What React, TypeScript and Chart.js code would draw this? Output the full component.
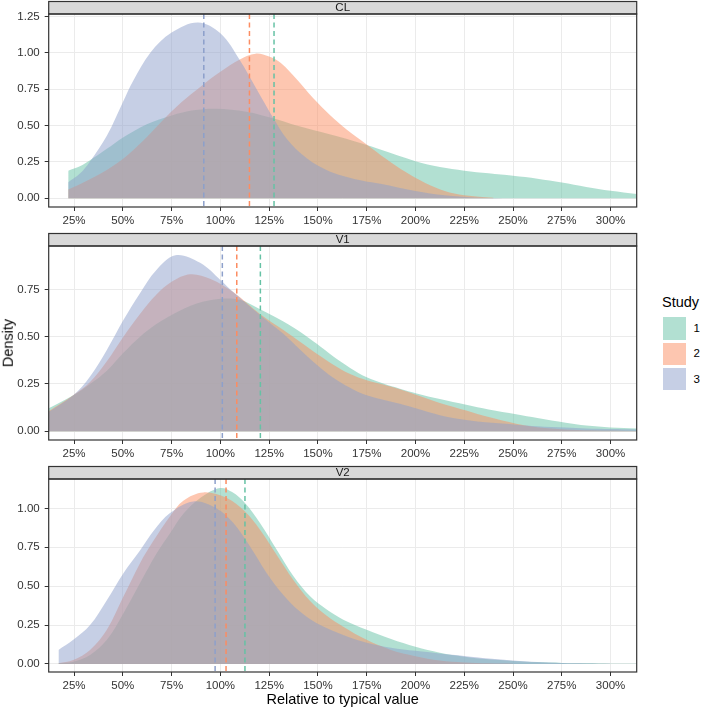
import React, { useEffect, useRef } from "react";
import { Chart, registerables } from "chart.js";

Chart.register(...registerables);

const FONT = "'Liberation Sans', Arial, Helvetica, sans-serif";
Chart.defaults.font.family = FONT;

// ---------- Data ----------
const PANEL_NAMES = ["CL", "V1", "V2"];
const STUDIES = ["1", "2", "3"];
const STUDY_COLORS = ["#66C2A5", "#FC8D62", "#8DA0CB"];
const STUDY_FILLS = ["rgba(102,194,165,0.5)", "rgba(252,141,98,0.5)", "rgba(141,160,203,0.5)"];

const X_TICKS = [25, 50, 75, 100, 125, 150, 175, 200, 225, 250, 275, 300];
const X_MIN = 12;
const X_MAX = 313.4;

// CL
const CL_S1_X = [22, 28, 33, 41.8, 50.3, 62.3, 75, 86, 98, 113.4, 127, 139, 156, 173, 182, 200, 212.5, 225, 237.5, 250, 262.5, 275, 287.5, 300, 313.4];
const CL_S1_Y = [0.19, 0.22, 0.26, 0.34, 0.42, 0.51, 0.57, 0.605, 0.616, 0.595, 0.55, 0.5, 0.44, 0.375, 0.335, 0.255, 0.215, 0.19, 0.172, 0.155, 0.135, 0.108, 0.078, 0.052, 0.03];
const CL_S2_X = [22, 30, 40, 50, 60, 70, 80, 90, 100, 110, 118, 125, 131, 139, 147.5, 156, 165, 175, 185, 195, 205, 215, 225, 240];
const CL_S2_Y = [0.06, 0.11, 0.18, 0.27, 0.39, 0.53, 0.66, 0.77, 0.87, 0.955, 0.995, 0.975, 0.93, 0.82, 0.69, 0.575, 0.47, 0.37, 0.27, 0.18, 0.105, 0.05, 0.02, 0.003];
const CL_S3_X = [22, 28, 33, 41.8, 50.3, 55.4, 64, 75, 88.5, 100, 110, 118.6, 127.2, 134, 144.3, 156, 173, 182, 200, 215, 230, 245];
const CL_S3_Y = [0.11, 0.17, 0.25, 0.43, 0.67, 0.81, 1.0, 1.14, 1.21, 1.135, 0.95, 0.75, 0.55, 0.41, 0.275, 0.185, 0.12, 0.1, 0.05, 0.02, 0.006, 0.001];
const CL_MEDIANS = [127.5, 114.9, 91.5];
const CL_Y_TICKS = [0, 0.25, 0.5, 0.75, 1.0, 1.25];

// V1
const V1_S1_X = [11.8, 24.6, 33.2, 41.8, 50.3, 58.8, 67, 75.9, 87.8, 100, 110, 120.3, 132.3, 140.8, 149.4, 157.9, 166.5, 175, 183.5, 192, 200.6, 212.5, 226, 237.5, 251.6, 262.5, 277, 287.5, 300, 313.4];
const V1_S1_Y = [0.12, 0.19, 0.25, 0.32, 0.415, 0.5, 0.565, 0.62, 0.675, 0.7, 0.695, 0.645, 0.58, 0.526, 0.462, 0.395, 0.335, 0.285, 0.252, 0.225, 0.2, 0.17, 0.14, 0.115, 0.09, 0.07, 0.045, 0.03, 0.02, 0.015];
const V1_S2_X = [11.8, 24.6, 33.2, 41.8, 50.3, 58.8, 67, 75, 84.5, 95, 106.7, 120.3, 132.3, 140.8, 149.4, 157.9, 166.5, 175, 183.5, 192, 200.6, 212.5, 226, 237.5, 251.6, 262.5, 277, 290, 313.4];
const V1_S2_Y = [0.105, 0.19, 0.26, 0.37, 0.5, 0.62, 0.72, 0.79, 0.83, 0.805, 0.735, 0.62, 0.535, 0.473, 0.41, 0.352, 0.303, 0.27, 0.247, 0.222, 0.192, 0.15, 0.11, 0.075, 0.04, 0.022, 0.01, 0.005, 0.002];
const V1_S3_X = [11.8, 24.6, 33.2, 41.8, 50.3, 58.8, 67, 77, 89.6, 100, 106.7, 120.3, 132.3, 140.8, 149.4, 157.9, 166.5, 175, 192, 200.6, 212.5, 226, 237.5, 251.6, 262.5, 277, 287.5, 300, 313.4];
const V1_S3_Y = [0.1, 0.19, 0.29, 0.43, 0.588, 0.73, 0.85, 0.93, 0.89, 0.8, 0.735, 0.615, 0.515, 0.432, 0.352, 0.283, 0.23, 0.19, 0.145, 0.12, 0.085, 0.06, 0.046, 0.035, 0.027, 0.02, 0.015, 0.012, 0.01];
const V1_MEDIANS = [120.5, 108.4, 101];
const V1_Y_TICKS = [0, 0.25, 0.5, 0.75];

// V2
const V2_S1_X = [17, 24.6, 33.2, 41.8, 50.3, 58.8, 67.4, 74.2, 81, 90, 99.8, 106, 112.6, 120.3, 128.9, 137.4, 146, 154.5, 163, 175, 187.5, 200, 212.5, 225, 237.5, 250, 262.5, 275, 287.5, 300, 313.4];
const V2_S1_Y = [0.005, 0.015, 0.058, 0.155, 0.326, 0.52, 0.713, 0.84, 0.965, 1.07, 1.131, 1.105, 1.035, 0.906, 0.734, 0.565, 0.435, 0.35, 0.285, 0.22, 0.16, 0.11, 0.072, 0.047, 0.03, 0.02, 0.012, 0.007, 0.004, 0.002, 0.001];
const V2_S2_X = [17, 24.6, 33.2, 41.8, 50.3, 58.8, 65.6, 74.2, 81, 91.3, 103.3, 112.6, 120.3, 128.9, 137.4, 146, 154.5, 163, 175, 187.5, 200, 212.5, 225, 237.5, 250];
const V2_S2_Y = [0.005, 0.026, 0.09, 0.22, 0.433, 0.648, 0.79, 0.95, 1.05, 1.103, 1.067, 0.98, 0.863, 0.7, 0.54, 0.405, 0.31, 0.24, 0.155, 0.09, 0.05, 0.022, 0.01, 0.004, 0.002];
const V2_S3_X = [17, 24.6, 33.2, 41.8, 50.3, 58.8, 66, 74.2, 86.1, 98.1, 106.7, 115.2, 123.8, 132.3, 140.8, 149.4, 163, 175, 187.5, 200, 212.5, 225, 237.5, 250, 262.5, 275, 287.5, 300];
const V2_S3_Y = [0.09, 0.155, 0.25, 0.41, 0.584, 0.73, 0.86, 0.97, 1.045, 1.0, 0.906, 0.755, 0.584, 0.444, 0.337, 0.262, 0.187, 0.137, 0.105, 0.085, 0.068, 0.052, 0.035, 0.022, 0.012, 0.006, 0.003, 0.001];
const V2_MEDIANS = [112.6, 102.9, 97.3];
const V2_Y_TICKS = [0, 0.25, 0.5, 0.75, 1.0];

// ---------- Panel layout ----------
const CANVAS_W = 645;
const AREA_LEFT = 48.7;
const AREA_RIGHT = 636.7;
const STRIP_H = 12.5;

type PanelDef = {
  name: string;
  xs: number[][];
  ys: number[][];
  medians: number[];
  yTicks: number[];
  yMin: number;
  yMax: number;
  top: number;
  height: number;
};

const PANELS: PanelDef[] = [
  { name: PANEL_NAMES[0], xs: [CL_S1_X, CL_S2_X, CL_S3_X], ys: [CL_S1_Y, CL_S2_Y, CL_S3_Y], medians: CL_MEDIANS, yTicks: CL_Y_TICKS, yMin: -0.06, yMax: 1.268, top: 0, height: 230 },
  { name: PANEL_NAMES[1], xs: [V1_S1_X, V1_S2_X, V1_S3_X], ys: [V1_S1_Y, V1_S2_Y, V1_S3_Y], medians: V1_MEDIANS, yTicks: V1_Y_TICKS, yMin: -0.046, yMax: 0.979, top: 232, height: 231 },
  { name: PANEL_NAMES[2], xs: [V2_S1_X, V2_S2_X, V2_S3_X], ys: [V2_S1_Y, V2_S2_Y, V2_S3_Y], medians: V2_MEDIANS, yTicks: V2_Y_TICKS, yMin: -0.0515, yMax: 1.189, top: 465, height: 230 },
];

const decorPlugin = {
  id: "panelDecor",
  afterDatasetsDraw(chart: any, _args: any, opts: any) {
    const { ctx, chartArea: a, scales } = chart;
    ctx.save();
    ctx.beginPath();
    ctx.rect(a.left, a.top, a.right - a.left, a.bottom - a.top);
    ctx.clip();
    (opts.medians as number[]).forEach((m, i) => {
      const x = scales.x.getPixelForValue(m);
      ctx.strokeStyle = STUDY_COLORS[i];
      ctx.lineWidth = 1.5;
      ctx.setLineDash([5, 3.5]);
      ctx.beginPath();
      ctx.moveTo(x, a.top);
      ctx.lineTo(x, a.bottom);
      ctx.stroke();
    });
    ctx.restore();
  },
  afterDraw(chart: any, _args: any, opts: any) {
    const { ctx, chartArea: a } = chart;
    ctx.save();
    // strip
    ctx.fillStyle = "#D9D9D9";
    ctx.fillRect(a.left, a.top - STRIP_H, a.right - a.left, STRIP_H);
    ctx.strokeStyle = "#333333";
    ctx.lineWidth = 1.2;
    ctx.strokeRect(a.left, a.top - STRIP_H, a.right - a.left, STRIP_H);
    ctx.fillStyle = "#1A1A1A";
    ctx.font = `11.5px ${FONT}`;
    ctx.textAlign = "center";
    ctx.textBaseline = "middle";
    ctx.fillText(opts.title, (a.left + a.right) / 2, a.top - STRIP_H / 2 + 0.5);
    // panel border
    ctx.strokeRect(a.left, a.top, a.right - a.left, a.bottom - a.top);
    ctx.restore();
  },
};

function Panel({ p }: { p: PanelDef }) {
  const ref = useRef<HTMLCanvasElement>(null);
  useEffect(() => {
    if (!ref.current) return;
    const datasets = STUDIES.map((s, i) => ({
      label: s,
      data: p.xs[i].map((x, j) => ({ x, y: p.ys[i][j] })),
      fill: "origin",
      backgroundColor: STUDY_FILLS[i],
      borderColor: "rgba(0,0,0,0)",
      borderWidth: 0,
      pointRadius: 0,
      tension: 0.35,
      order: 3 - i,
    }));
    const chart = new Chart(ref.current, {
      type: "line",
      data: { datasets } as any,
      plugins: [decorPlugin as any],
      options: {
        responsive: false,
        animation: false,
        layout: { padding: { top: 14, right: CANVAS_W - AREA_RIGHT, left: 0, bottom: 0 } },
        plugins: {
          legend: { display: false },
          tooltip: { enabled: false },
          panelDecor: { medians: p.medians, title: p.name },
        } as any,
        scales: {
          x: {
            type: "linear",
            min: X_MIN,
            max: X_MAX,
            afterBuildTicks: (s: any) => {
              s.ticks = X_TICKS.map((v) => ({ value: v }));
            },
            afterFit: (s: any) => {
              s.height = 23;
            },
            ticks: {
              autoSkip: false,
              maxRotation: 0,
              padding: 3,
              color: "#333333",
              font: { size: 11.5, family: FONT },
              callback: (v: any) => `${v}%`,
            },
            grid: { color: "#EBEBEB", lineWidth: 1, tickColor: "#333333", tickLength: 4 },
            border: { display: false },
          },
          y: {
            type: "linear",
            min: p.yMin,
            max: p.yMax,
            afterBuildTicks: (s: any) => {
              s.ticks = p.yTicks.map((v) => ({ value: v }));
            },
            afterFit: (s: any) => {
              s.width = AREA_LEFT;
            },
            ticks: {
              padding: 5,
              color: "#333333",
              font: { size: 11.5, family: FONT },
              callback: (v: any) => Number(v).toFixed(2),
            },
            grid: { color: "#EBEBEB", lineWidth: 1, tickColor: "#333333", tickLength: 4 },
            border: { display: false },
          },
        },
      } as any,
    });
    return () => chart.destroy();
  }, [p]);
  return (
    <canvas
      ref={ref}
      width={CANVAS_W}
      height={p.height}
      style={{ position: "absolute", left: 0, top: p.top, width: CANVAS_W, height: p.height }}
    />
  );
}

export default function App() {
  return (
    <div style={{ position: "absolute", left: 0, top: 0, width: 709, height: 709, background: "#ffffff", fontFamily: FONT, overflow: "hidden" }}>
      {PANELS.map((p) => (
        <Panel key={p.name} p={p} />
      ))}
      <div
        style={{
          position: "absolute",
          left: 8,
          top: 343,
          transform: "translate(-50%, -50%) rotate(-90deg)",
          fontSize: 14.5,
          lineHeight: 1,
          color: "#000",
          whiteSpace: "nowrap",
        }}
      >
        Density
      </div>
      <div
        style={{
          position: "absolute",
          left: 342.7,
          top: 692,
          transform: "translateX(-50%)",
          fontSize: 14.5,
          lineHeight: 1,
          color: "#000",
          whiteSpace: "nowrap",
        }}
      >
        Relative to typical value
      </div>
      <div style={{ position: "absolute", left: 662, top: 295, fontSize: 14.5, lineHeight: 1, color: "#000" }}>Study</div>
      {STUDIES.map((s, i) => (
        <React.Fragment key={s}>
          <div
            style={{
              position: "absolute",
              left: 662.5,
              top: 317.3 + i * 25.2,
              width: 23.5,
              height: 22.5,
              background: STUDY_FILLS[i],
            }}
          />
          <div
            style={{
              position: "absolute",
              left: 693.5,
              top: 322.7 + i * 25.5,
              fontSize: 11.5,
              lineHeight: 1,
              color: "#000",
            }}
          >
            {s}
          </div>
        </React.Fragment>
      ))}
    </div>
  );
}
